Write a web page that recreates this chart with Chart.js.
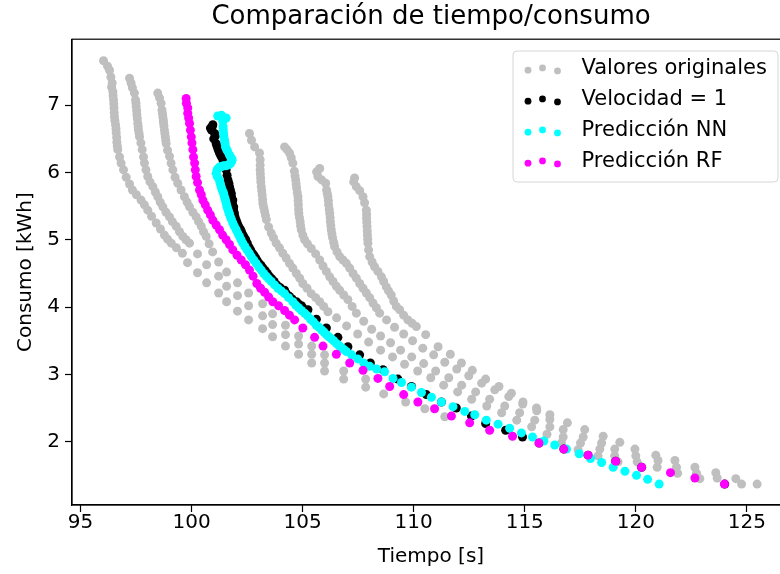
<!DOCTYPE html>
<html>
<head>
<meta charset="utf-8">
<script src="https://cdn.jsdelivr.net/npm/chart.js@4.4.0/dist/chart.umd.min.js"></script>
<style>
  html, body { margin: 0; padding: 0; overflow: hidden; background: #fff; }
  #wrap { width: 800px; height: 574px; }
</style>
</head>
<body>
<div id="wrap"><canvas id="myChart"></canvas></div>
<script>
// original runs (grey), one list per speed curve
var grayAx = [96.04,96.22,96.31,96.37,96.43,96.46,96.49,96.51,96.53,96.58,96.61,96.64,96.68,96.76,96.83,96.94,97.06,97.21,97.34,97.52,97.73,97.88,98.03,98.2,98.41,98.6,98.78,98.92,99.09,99.32,99.59,99.82,100.27,100.68,101.22,101.58,102.07,102.57,103.2,103.65,104.23,104.82,105.41,105.99,106.85,107.84,108.65,109.64,110.5,111.4];
var grayAy = [7.66,7.58,7.52,7.42,7.33,7.20,7.08,6.96,6.83,6.71,6.59,6.45,6.34,6.23,6.14,6.04,5.93,5.83,5.74,5.67,5.59,5.52,5.44,5.35,5.25,5.16,5.07,5.01,4.95,4.88,4.80,4.66,4.51,4.36,4.21,4.08,3.94,3.81,3.68,3.56,3.42,3.30,3.17,3.05,2.93,2.81,2.71,2.59,2.49,2.37];
var grayBx = [97.21,97.28,97.34,97.43,97.48,97.51,97.54,97.58,97.61,97.66,97.72,97.78,97.84,97.88,97.95,98.03,98.13,98.26,98.37,98.48,98.59,98.71,98.85,99.01,99.14,99.31,99.46,99.61,99.75,99.91,100.27,100.68,101.22,101.58,102.07,102.57,103.2,103.65,104.23,104.82,105.41,105.99,106.85,107.84];
var grayBy = [7.40,7.33,7.26,7.18,7.08,6.98,6.86,6.73,6.63,6.53,6.44,6.34,6.23,6.14,6.04,5.94,5.86,5.79,5.71,5.64,5.56,5.49,5.41,5.34,5.27,5.20,5.12,5.05,5.00,4.95,4.79,4.63,4.46,4.31,4.17,4.02,3.87,3.74,3.59,3.45,3.30,3.17,3.05,2.93];
var grayCx = [98.48,98.56,98.63,98.67,98.71,98.74,98.78,98.82,98.86,98.92,99.01,99.08,99.16,99.26,99.38,99.53,99.68,99.8,99.91,100.06,100.21,100.32,100.44,100.54,100.66,100.79,100.95,101.22,101.58,102.07,102.57,103.2,103.65,104.23,104.82,105.41,105.99];
var grayCy = [7.18,7.11,7.03,6.93,6.83,6.74,6.63,6.53,6.43,6.33,6.24,6.14,6.04,5.93,5.84,5.74,5.64,5.56,5.49,5.41,5.34,5.27,5.20,5.12,5.05,4.94,4.82,4.67,4.52,4.36,4.21,4.05,3.90,3.73,3.57,3.42,3.29];
var grayDx = [102.61,102.70,102.84,103.06,103.09,103.09,103.11,103.14,103.18,103.21,103.29,103.37,103.47,103.59,103.69,103.81,103.96,104.11,104.26,104.41,104.56,104.72,104.87,105.01,105.2,105.39,105.59,105.77,105.95,106.14,106.53,106.98,107.48,107.97,108.51,109.05,109.59,110.18,110.77,111.35,111.98,112.61,113.29,113.96,114.64,115.31,116.0,116.65,117.4,118.3,119.2];
var grayDy = [6.58,6.48,6.38,6.29,6.19,6.04,5.92,5.79,5.67,5.54,5.42,5.30,5.19,5.10,5.03,4.95,4.88,4.80,4.73,4.65,4.58,4.50,4.43,4.35,4.28,4.20,4.14,4.08,4.01,3.93,3.84,3.72,3.60,3.48,3.36,3.26,3.15,3.05,2.95,2.84,2.74,2.63,2.53,2.43,2.32,2.22,2.11,1.98,1.88,1.79,1.70];
var grayEx = [104.19,104.30,104.41,104.49,104.56,104.63,104.69,104.73,104.79,104.81,104.83,104.89,104.94,105.01,105.09,105.22,105.39,105.59,105.77,105.92,106.07,106.22,106.37,106.52,106.67,106.85,107.04,107.23,107.42,107.75,108.11,108.51,108.96,109.41,109.91,110.45,110.99,111.58,112.16,112.79,113.42,114.1,114.77,115.45,116.13,116.73,117.51,118.38,119.05,120.06,120.96,121.88,122.88];
var grayEy = [6.38,6.34,6.29,6.22,6.14,6.02,5.89,5.77,5.64,5.52,5.39,5.27,5.15,5.07,5.00,4.94,4.87,4.79,4.70,4.61,4.53,4.45,4.38,4.31,4.25,4.18,4.11,4.01,3.91,3.79,3.67,3.57,3.47,3.36,3.26,3.16,3.05,2.95,2.84,2.74,2.63,2.53,2.43,2.32,2.22,2.07,1.98,1.89,1.79,1.70,1.62,1.53,1.45];
var grayFx = [105.77,105.63,105.69,105.86,106.04,106.08,106.14,106.17,106.22,106.25,106.29,106.35,106.44,106.55,106.67,106.82,106.97,107.12,107.27,107.42,107.57,107.72,107.87,108.02,108.17,108.32,108.47,108.78,109.14,109.55,109.95,110.41,110.9,111.4,111.94,112.48,113.06,113.65,114.28,114.91,115.54,116.13,116.73,117.63,118.46,119.05,120.0,121.0,121.83,122.73,123.66,124.76];
var grayFy = [6.06,6.01,5.94,5.89,5.84,5.74,5.64,5.52,5.39,5.27,5.15,5.03,4.90,4.82,4.75,4.70,4.65,4.58,4.50,4.43,4.35,4.28,4.21,4.14,4.06,3.99,3.91,3.81,3.70,3.60,3.50,3.39,3.29,3.18,3.08,2.98,2.87,2.77,2.67,2.56,2.46,2.33,2.18,2.07,1.98,1.89,1.79,1.72,1.62,1.53,1.46,1.37];
var grayGx = [107.34,107.30,107.42,107.57,107.72,107.79,107.87,107.88,107.9,107.92,107.94,107.97,108.02,108.13,108.24,108.39,108.55,108.65,108.77,108.87,108.99,109.10,109.22,109.37,109.55,109.74,109.93,110.12,110.54,111.1,111.65,112.15,112.64,113.24,113.84,114.40,114.92,115.53,116.13,116.92,117.7,118.53,119.28,119.96,120.9,121.76,122.66,123.60,124.50,125.46];
var grayGy = [5.92,5.86,5.79,5.73,5.64,5.55,5.44,5.32,5.20,5.07,4.95,4.85,4.75,4.67,4.60,4.53,4.45,4.38,4.30,4.24,4.18,4.09,4.01,3.96,3.88,3.81,3.76,3.71,3.59,3.41,3.30,3.17,3.06,2.93,2.82,2.72,2.59,2.50,2.40,2.28,2.18,2.08,1.99,1.89,1.80,1.72,1.62,1.54,1.45,1.37];
// extra grey points read in the steep, packed upper parts
var grayDenseX = [96.40,96.47,96.50,96.52,96.55,96.60,96.63,96.66,97.50,97.53,97.56,97.60,97.64,98.69,98.73,98.76,98.80,98.84,103.09,103.10,103.12,103.16,103.20,103.25,103.33,104.66,104.71,104.76,104.80,104.82,104.86,104.91,106.11,106.16,106.20,106.24,106.27,106.32,106.40,107.88,107.89,107.91,107.93];
var grayDenseY = [7.27,7.14,7.02,6.89,6.77,6.65,6.52,6.39,7.03,6.92,6.80,6.68,6.58,6.88,6.78,6.69,6.58,6.48,6.11,5.98,5.86,5.73,5.60,5.48,5.36,5.95,5.83,5.70,5.58,5.45,5.33,5.21,5.69,5.58,5.45,5.33,5.21,5.09,4.96,5.38,5.26,5.13,5.01];

// velocidad = 1
var blackX = [100.96,100.85,100.9,101.04,101.0,101.11,101.17,101.26,101.41,101.49,101.56,101.64,101.71,101.79,101.86,101.90,101.93,102.00,102.09,102.21,102.32,102.44,102.59,102.74,102.89,103.04,103.22,103.41,103.62,103.84,104.19,104.41,104.72,104.95,105.24,105.62,106.07,106.59,107.04,107.57,108.05,108.62,109.29,109.9,110.57,111.25,111.92,112.6,113.24,114.14,114.9,115.65,116.76,117.85,119.09,120.26,124.0];
var blackY = [6.71,6.66,6.63,6.58,6.50,6.43,6.37,6.29,6.19,6.11,6.04,5.89,5.79,5.69,5.59,5.49,5.40,5.30,5.22,5.15,5.07,5.00,4.89,4.80,4.73,4.65,4.58,4.50,4.42,4.33,4.25,4.16,4.08,4.02,3.96,3.82,3.69,3.55,3.41,3.29,3.17,3.07,2.93,2.82,2.70,2.59,2.50,2.38,2.27,2.17,2.07,1.98,1.89,1.80,1.71,1.62,1.37];
var blackDenseX = [100.93,101.07,101.14,101.21,101.33,101.45,101.52,101.60,101.68,101.75,101.80,101.84,101.89,101.95,102.04,102.15,102.26,102.38,102.51,102.66,102.81,102.96,103.13,103.32,103.50,103.72,103.99,104.27,104.53,104.80,105.00];
var blackDenseY = [6.68,6.54,6.40,6.33,6.24,6.15,6.08,5.96,5.84,5.74,5.64,5.54,5.45,5.35,5.26,5.18,5.11,5.03,4.95,4.85,4.77,4.69,4.62,4.54,4.46,4.38,4.29,4.20,4.12,4.05,3.99];

// neural network prediction
var nnX = [101.18,101.35,101.56,101.41,101.42,101.44,101.49,101.53,101.62,101.71,101.83,101.76,101.64,101.44,101.26,101.15,101.11,101.25,101.33,101.42,101.48,101.55,101.60,101.68,101.75,101.86,102.01,102.16,102.31,102.5,102.69,102.91,103.14,103.36,103.59,103.89,104.19,104.56,104.82,105.09,105.36,105.62,105.86,106.07,106.29,106.52,106.74,106.97,107.21,107.48,107.75,108.02,108.33,108.69,109.07,109.45,109.9,110.35,110.8,111.25,111.77,112.3,112.75,113.27,113.8,114.32,114.85,115.35,115.86,116.35,116.88,117.45,117.96,118.46,118.98,119.51,120.03,120.53,121.05];
var nnY = [6.84,6.85,6.81,6.76,6.68,6.58,6.48,6.38,6.32,6.26,6.19,6.14,6.11,6.10,6.08,6.04,5.99,5.89,5.79,5.71,5.64,5.56,5.49,5.41,5.34,5.25,5.15,5.05,4.95,4.85,4.75,4.65,4.55,4.46,4.38,4.28,4.20,4.08,3.99,3.91,3.82,3.73,3.66,3.59,3.53,3.46,3.40,3.34,3.29,3.23,3.17,3.12,3.08,3.04,2.94,2.88,2.81,2.73,2.66,2.59,2.52,2.45,2.40,2.32,2.26,2.20,2.13,2.07,2.01,1.95,1.89,1.82,1.75,1.69,1.62,1.56,1.50,1.44,1.37];
var nnDenseX = [101.43,101.46,101.51,101.57,101.78,101.80,101.70,101.54,101.35,101.20,101.16,101.29,101.37,101.45,101.52,101.58,101.64,101.71,101.80,101.93,102.08,102.23,102.40,102.60,102.80,103.02,103.25,103.47,103.74,104.04,104.37,104.69,104.95,105.22,105.49,105.74,105.96,106.18,106.40,106.63,106.85];
var nnDenseY = [6.63,6.53,6.43,6.35,6.22,6.16,6.12,6.10,6.09,6.06,5.94,5.84,5.75,5.68,5.60,5.52,5.45,5.38,5.30,5.20,5.10,5.00,4.90,4.80,4.70,4.60,4.50,4.42,4.33,4.24,4.14,4.03,3.95,3.87,3.78,3.70,3.63,3.56,3.50,3.43,3.37];

// random forest prediction
var rfX = [99.76,99.77,99.83,99.83,99.87,99.91,99.95,99.99,100.02,100.06,100.09,100.14,100.17,100.21,100.27,100.36,100.44,100.51,100.62,100.73,100.85,100.96,101.11,101.26,101.4,101.56,101.71,101.86,102.05,102.24,102.43,102.61,102.77,102.94,103.11,103.29,103.47,103.66,103.92,104.19,104.41,104.64,105.01,105.54,105.92,106.52,107.12,107.72,108.39,108.92,109.55,110.19,110.94,111.7,112.52,113.42,114.45,115.64,116.76,117.85,119.09,120.26,121.56,122.66,123.99];
var rfY = [7.10,7.03,6.96,6.88,6.81,6.73,6.63,6.53,6.44,6.34,6.23,6.14,6.04,5.94,5.85,5.74,5.67,5.59,5.52,5.44,5.37,5.29,5.22,5.15,5.07,5.00,4.93,4.85,4.77,4.70,4.63,4.55,4.46,4.35,4.28,4.22,4.15,4.08,4.02,3.95,3.88,3.81,3.69,3.55,3.42,3.30,3.17,3.06,2.94,2.82,2.70,2.59,2.49,2.38,2.28,2.17,2.08,1.98,1.89,1.80,1.71,1.62,1.54,1.46,1.37];

var legendNames = ["Valores originales", "Velocidad = 1", "Predicción NN", "Predicción RF"];
var colors = ["#bfbfbf", "#000000", "#00ffff", "#ff00ff"];

function pts(xs, ys) {
  var out = [];
  var n = Math.min(xs.length, ys.length);
  for (var i = 0; i < n; i++) out.push({ x: xs[i], y: ys[i] });
  return out;
}

var grayData = [].concat(
  pts(grayAx, grayAy), pts(grayBx, grayBy), pts(grayCx, grayCy), pts(grayDx, grayDy),
  pts(grayEx, grayEy), pts(grayFx, grayFy), pts(grayGx, grayGy), pts(grayDenseX, grayDenseY)
);
var blackData = pts(blackX, blackY).concat(pts(blackDenseX, blackDenseY));
var nnData = pts(nnX, nnY).concat(pts(nnDenseX, nnDenseY));
var rfData = pts(rfX, rfY);

Chart.defaults.font.family = "'DejaVu Sans', sans-serif";
Chart.defaults.color = "#000";

// matplotlib style frame + legend inside the axes
const frameLegend = {
  id: "frameLegend",
  afterDatasetsDraw(chart) {
    const c = chart.ctx;
    const a = chart.chartArea;
    c.save();
    c.strokeStyle = "#000";
    c.lineWidth = 1.2;
    c.strokeRect(a.left, a.top, a.right - a.left, a.bottom - a.top);

    // legend box
    const bx = 513, by = 51, bw = 265, bh = 131, r = 4;
    c.beginPath();
    c.moveTo(bx + r, by);
    c.lineTo(bx + bw - r, by);
    c.arcTo(bx + bw, by, bx + bw, by + r, r);
    c.lineTo(bx + bw, by + bh - r);
    c.arcTo(bx + bw, by + bh, bx + bw - r, by + bh, r);
    c.lineTo(bx + r, by + bh);
    c.arcTo(bx, by + bh, bx, by + bh - r, r);
    c.lineTo(bx, by + r);
    c.arcTo(bx, by, bx + r, by, r);
    c.closePath();
    c.fillStyle = "rgba(255,255,255,0.8)";
    c.fill();
    c.strokeStyle = "#d6d6d6";
    c.lineWidth = 1;
    c.stroke();

    const dotX = [528, 542.5, 557.5];
    const dotDy = [1.7, -0.6, 2.4];
    c.font = "21px 'DejaVu Sans'";
    c.textBaseline = "middle";
    c.textAlign = "left";
    legendNames.forEach((name, i) => {
      const y = 68.5 + i * 31;
      c.fillStyle = colors[i];
      dotX.forEach((dx, k) => {
        c.beginPath();
        c.arc(dx, y + dotDy[k], 3.4, 0, Math.PI * 2);
        c.fill();
      });
      c.fillStyle = "#000";
      c.fillText(name, 581.5, y);
    });
    c.restore();
  }
};

const ctx = document.getElementById("myChart");
const myChart = new Chart(ctx, {
  type: "scatter",
  data: {
    datasets: [
      { label: legendNames[0], data: grayData, backgroundColor: colors[0], order: 4 },
      { label: legendNames[1], data: blackData, backgroundColor: colors[1], order: 3 },
      { label: legendNames[2], data: nnData, backgroundColor: colors[2], order: 2 },
      { label: legendNames[3], data: rfData, backgroundColor: colors[3], order: 1 },
    ],
  },
  options: {
    responsive: true,
    maintainAspectRatio: false,
    animation: false,
    elements: {
      point: { radius: 4.5, hoverRadius: 4.5, borderWidth: 0 },
    },
    layout: { padding: { left: 0, right: 10, top: 0, bottom: 0 } },
    scales: {
      x: {
        type: "linear",
        min: 94.62,
        max: 126.94,
        afterFit: (s) => { s.height = 69; },
        border: { color: "#000", width: 1.2 },
        grid: { drawOnChartArea: false, drawTicks: true, tickLength: 7, color: "#000", tickWidth: 1.2 },
        ticks: { stepSize: 5, includeBounds: false, color: "#000", font: { size: 20, lineHeight: 1 }, padding: 1, maxRotation: 0 },
        title: { display: true, text: "Tiempo [s]", color: "#000", font: { size: 20 }, padding: { top: 0, bottom: 5 } },
      },
      y: {
        type: "linear",
        min: 1.059,
        max: 7.981,
        afterFit: (s) => { s.width = 72; },
        border: { color: "#000", width: 1.2 },
        grid: { drawOnChartArea: false, drawTicks: true, tickLength: 7, color: "#000", tickWidth: 1.2 },
        ticks: { stepSize: 1, includeBounds: false, color: "#000", font: { size: 20 }, padding: 5 },
        title: { display: true, text: "Consumo [kWh]", color: "#000", font: { size: 20 }, padding: { top: 14, bottom: 0 } },
      },
    },
    plugins: {
      legend: { display: false },
      tooltip: { enabled: false },
      title: {
        display: true,
        text: "Comparación de tiempo/consumo",
        color: "#000",
        fullSize: false,
        font: { size: 26, weight: "normal" },
        padding: { top: 2, bottom: 6 },
      },
    },
  },
  plugins: [frameLegend],
});
</script>
</body>
</html>
